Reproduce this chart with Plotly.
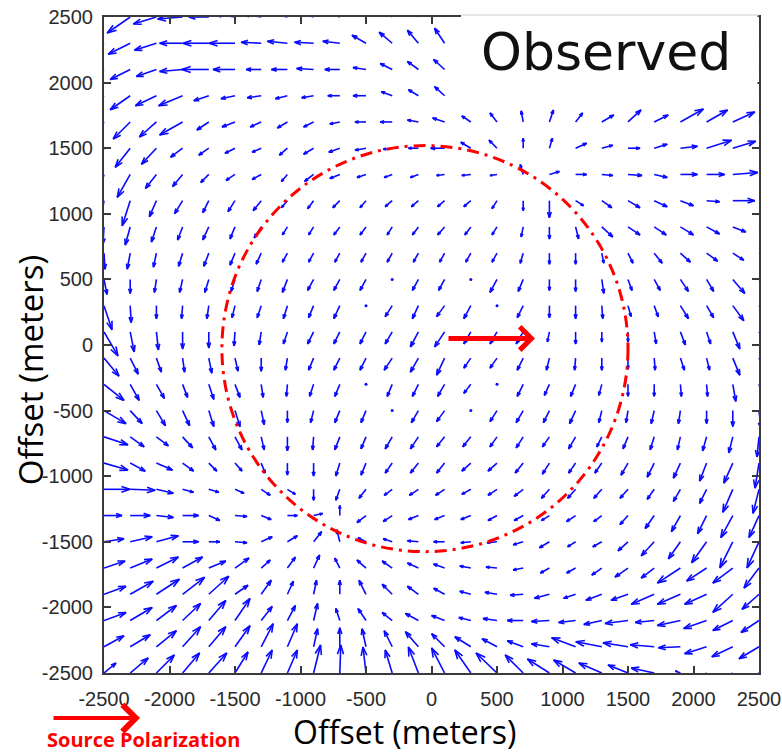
import plotly.graph_objects as go

# ---------------- data ----------------
X_GRID = [-2500, -2300, -2100, -1900, -1700, -1500, -1300, -1100, -900, -700, -500, -300, -100,
          100, 300, 500, 700, 900, 1100, 1300, 1500, 1700, 1900, 2100, 2300, 2500]
Y_GRID = [2500, 2300, 2100, 1900, 1700, 1500, 1300, 1100, 900, 700, 500, 300, 100,
          -100, -300, -500, -700, -900, -1100, -1300, -1500, -1700, -1900, -2100, -2300, -2500]

# observed field components (one list per row, top row first)
U_ROWS = [
    [-20, -23, -23, -25, -20, -20, -18, -17, -16, -15, -12, -10, -8, -6, -3, 0, 5, 8, 12, 15, 18, 20, 22, 22, 22, 20],
    [-20, -22, -22, -23, -26, -26, -20, -20, -19, -17, -14, -13, -11, -10, -6, -2, 3, 7, 11, 15, 18, 20, 22, 22, 22, 20],
    [-18, -20, -20, -23, -27, -22, -15, -16, -17, -15, -13, -12, -11, -11, -8, -4, 2, 6, 10, 14, 17, 19, 21, 21, 21, 20],
    [-15, -20, -21, -24, -15, -14, -14, -12, -12, -12, -13, -11, -10, -10, -8, -5, 0, 5, 8, 12, 14, 16, 22, 21, 22, 20],
    [-10, -17, -17, -23, -12, -13, -11, -10, -10, -10, -11, -12, -11, -12, -9, -7, -2, 4, 7, 12, 13, 14, 23, 21, 22, 20],
    [-8, -15, -15, -12, -10, -10, -9, -8, -10, -11, -11, -9, -10, -14, -10, -8, 0, 3, 11, 11, 12, 13, 17, 25, 23, 20],
    [-5, -13, -11, -10, -8, -9, -9, -6, -9, -10, -9, -8, -8, -8, -9, -7, -3, 10, 11, 11, 14, 13, 17, 18, 25, 20],
    [-3, -8, -7, -8, -6, -7, -8, -6, -6, -7, -6, -7, -7, -7, -7, -5, 0, 0, 8, 10, 12, 13, 13, 13, 22, 20],
    [-1, -5, -5, -5, -6, -5, -7, -5, -5, -6, -6, -5, -6, -7, -6, -5, -2, 0, 3, 11, 12, 12, 13, 13, 13, 15],
    [1, -3, -3, -4, -5, -5, -5, -5, -5, -5, -5, -5, -5, -5, -5, -5, -3, 0, 0, 2, 5, 8, 10, 11, 11, 12],
    [3, 0, -2, -3, -4, -4, -4, -5, -6, -6, -6, 0, -6, -6, 0, -7, -5, 0, 0, 2, 4, 6, 8, 7, 12, 12],
    [8, 1, 0, -1, -2, -3, -4, -4, -5, -6, 0, -7, -6, -8, -7, 0, -6, 0, 0, 1, 3, 4, 8, 7, 11, 10],
    [14, 4, 2, 0, 0, -1, -2, -4, -6, -6, -6, -7, -8, -10, -7, -7, -7, -2, 0, 0, 0, 2, 5, 4, 7, 8],
    [15, 8, 5, 2, 3, 3, 0, -2, -5, -6, -6, -8, -8, -8, -7, -7, -6, -3, -1, 0, 0, 1, 4, 3, 7, 8],
    [20, 9, 8, 5, 5, 5, 2, -1, -4, -5, 0, -5, -6, -7, -7, 0, -6, -5, -5, -3, 0, 0, 1, 1, 3, 5],
    [22, 12, 9, 7, 5, 5, 3, 0, -3, -5, -5, 0, -7, -8, 0, -7, -7, -6, -6, -3, -2, -3, -2, 0, 0, 2],
    [24, 14, 12, 10, 7, 7, 3, 0, -1, -5, -5, -7, -8, -8, -8, -7, -7, -7, -7, -5, -5, -4, -3, -4, -4, -2],
    [24, 15, 16, 11, 8, 7, 4, 0, 0, -4, -5, -7, -8, -8, -9, -9, -8, -7, -7, -7, -7, -7, -7, -7, -9, -4],
    [26, 25, 17, 11, 10, 9, 9, 8, 0, -4, -7, -8, -9, -9, -9, -9, -9, -8, -8, -8, -8, -7, -7, -7, -10, -6],
    [18, 20, 17, 16, 11, 12, 10, 10, 9, 0, -9, -9, -10, -10, -10, -9, -9, -8, -9, -8, -8, -9, -9, -9, -12, -10],
    [20, 22, 22, 16, 11, 12, 11, 10, 8, -3, -8, -9, -11, -11, -10, -10, -10, -10, -8, -9, -10, -13, -12, -15, -13, -12],
    [21, 22, 22, 20, 17, 14, 9, 8, 6, -5, -9, -10, -11, -11, -11, -11, -10, -9, -9, -10, -13, -13, -23, -20, -20, -15],
    [22, 23, 23, 22, 20, 13, 10, 6, 3, 0, -7, -10, -11, -11, -11, -12, -13, -15, -12, -16, -17, -23, -23, -22, -20, -17],
    [22, 22, 20, 18, 17, 15, 11, 8, 4, -4, -8, -10, -13, -13, -12, -14, -16, -18, -17, -18, -23, -19, -23, -23, -20, -18],
    [20, 20, 20, 18, 17, 15, 12, 10, 4, 0, -4, -8, -13, -13, -16, -15, -16, -18, -24, -26, -25, -24, -22, -22, -21, -20],
    [12, 18, 18, 17, 18, 13, 11, 10, 7, 1, -3, -7, -10, -13, -16, -21, -18, -22, -22, -23, -20, -23, -5, -15, -15, -15],
]
V_ROWS = [
    [-8, -16, -7, -2, 0, 3, 3, 4, 5, 6, 9, 12, 14, 16, 16, 15, 14, 14, 12, 10, 8, 8, 8, 6, 5, 5],
    [-12, -11, -7, 0, 0, 0, 1, 2, 1, 2, 8, 11, 13, 15, 15, 15, 14, 13, 11, 9, 8, 8, 8, 7, 6, 5],
    [-12, -10, -7, -2, 0, 0, 0, 0, 1, 0, 2, 6, 8, 10, 12, 13, 12, 12, 10, 8, 7, 7, 7, 6, 6, 5],
    [-12, -14, -10, -10, -5, -3, -2, -3, -2, 0, 0, 4, 6, 9, 10, 11, 12, 12, 10, 8, 10, 7, 12, 11, 9, 6],
    [-15, -17, -15, -13, -8, -5, -5, -6, -5, -2, 0, 0, 2, 4, 6, 9, 11, 12, 9, 7, 12, 7, 13, 12, 10, 8],
    [-15, -19, -16, -9, -7, -5, -4, -7, -6, -4, -2, -1, 0, 0, 6, 8, 10, 10, 5, 3, 0, 4, 2, 8, 7, 6],
    [-18, -23, -14, -12, -8, -6, -5, -7, -7, -4, -3, -3, -3, -1, -1, -1, 10, 3, 0, -1, -1, -3, 0, 0, 2, 0],
    [-18, -25, -16, -13, -12, -11, -10, -7, -8, -7, -7, -6, -6, -6, -6, -8, -10, -17, -5, -7, -7, -6, -5, -1, 0, 0],
    [-17, -18, -15, -13, -13, -12, -11, -8, -8, -8, -8, -8, -8, -8, -8, -8, -10, -12, -12, -10, -8, -8, -8, -7, -5, -5],
    [-16, -16, -14, -13, -13, -12, -11, -9, -9, -9, -9, -9, -9, -9, -9, -9, -10, -11, -11, -10, -10, -10, -9, -8, -7, -8],
    [-15, -14, -13, -13, -13, -12, -12, -13, -11, -11, -11, 0, -11, -11, 0, -13, -12, -11, -12, -14, -11, -11, -12, -12, -14, -12],
    [-24, -17, -13, -13, -13, -12, -12, -13, -12, -13, 0, -11, -13, -11, -13, 0, -12, -12, -13, -13, -11, -11, -13, -12, -15, -14],
    [-24, -20, -18, -17, -16, -14, -13, -12, -12, -12, -12, -12, -15, -15, -12, -12, -12, -10, -12, -10, -10, -12, -13, -12, -17, -15],
    [-18, -16, -14, -14, -15, -13, -13, -12, -12, -12, -12, -12, -14, -17, -10, -10, -12, -12, -12, -12, -11, -12, -12, -12, -17, -16],
    [-16, -16, -14, -13, -15, -13, -13, -12, -12, -12, 0, -12, -12, -12, -9, 0, -12, -11, -12, -11, -12, -12, -12, -12, -17, -17],
    [-13, -13, -15, -15, -16, -16, -14, -12, -12, -12, -12, 0, -12, -11, 0, -11, -12, -12, -13, -12, -12, -13, -13, -13, -16, -18],
    [-8, -10, -9, -11, -13, -13, -13, -14, -13, -13, -12, -12, -12, -10, -10, -10, -11, -10, -12, -10, -12, -13, -13, -14, -16, -20],
    [-7, -8, -7, -8, -8, -8, -10, -12, -13, -13, -12, -10, -10, -10, -8, -8, -10, -11, -10, -10, -12, -14, -15, -18, -20, -25],
    [0, -1, -4, -3, -3, -4, -6, -5, -11, -11, -9, -6, -6, -6, -5, -6, -7, -9, -9, -9, -9, -10, -12, -14, -23, -24],
    [0, 0, -2, 0, -5, -1, -4, 0, 2, 10, -7, -6, -4, -4, -4, -5, -5, -5, -6, -6, -9, -13, -16, -18, -22, -22],
    [3, 5, 6, 0, 0, -1, 5, 6, 10, 12, 4, 3, 1, 0, -1, -1, -3, -6, -5, -5, -9, -14, -17, -21, -26, -26],
    [7, 9, 11, 11, 7, 10, 8, 11, 13, 10, 8, 7, 5, 4, 2, 1, -2, -5, -5, -7, -9, -10, -15, -13, -15, -20],
    [8, 13, 15, 17, 18, 9, 14, 13, 14, 14, 14, 10, 8, 6, 3, 2, -1, -4, -4, -6, -6, -10, -10, -10, -18, -15],
    [8, 13, 15, 17, 20, 22, 14, 15, 17, 12, 12, 8, 7, 5, 3, 2, 0, -1, -2, -4, -3, -2, -5, -8, -10, -12],
    [11, 12, 16, 20, 20, 21, 23, 23, 18, 19, 18, 16, 15, 13, 10, 8, 6, 3, 9, 5, 4, 2, -1, -7, -10, -12],
    [10, 15, 18, 20, 20, 21, 23, 23, 28, 28, 26, 23, 26, 25, 23, 20, 18, 14, 13, 10, 8, 5, 2, -10, -10, -10],
]

TICK_VALS = [-2500, -2000, -1500, -1000, -500, 0, 500, 1000, 1500, 2000, 2500]
TICK_TEXT = ["-2500", "-2000", "-1500", "-1000", "-500", "0", "500", "1000", "1500", "2000", "2500"]

CIRCLE_X = [-1600, 1500]
CIRCLE_Y = [-1575, 1520]
SOURCE_ARROW_X = [118, 790]
SOURCE_ARROW_Y = [50, 50]

# ---------------- drawing ----------------
SCALE = 7.63          # metres per reading unit (quiver scale)
ALPHA, BETA = 0.33, 0.33

qx, qy = [], []
zx, zy = [], []
for j, y in enumerate(Y_GRID):
    for i, x in enumerate(X_GRID):
        u = U_ROWS[j][i] * SCALE
        v = V_ROWS[j][i] * SCALE
        if u == 0 and v == 0:
            zx.append(x)
            zy.append(y)
            continue
        qx += [x, x + u, None,
               x + u - ALPHA * (u + BETA * v), x + u, x + u - ALPHA * (u - BETA * v), None]
        qy += [y, y + v, None,
               y + v - ALPHA * (v - BETA * u), y + v, y + v - ALPHA * (v + BETA * u), None]

fig = go.Figure()
fig.add_trace(go.Scatter(x=qx, y=qy, mode="lines",
                         line=dict(color="#0a0aff", width=1.6),
                         hoverinfo="skip", showlegend=False))
fig.add_trace(go.Scatter(x=zx, y=zy, mode="markers",
                         marker=dict(color="#0a0aff", size=3),
                         hoverinfo="skip", showlegend=False, cliponaxis=True))

axis_common = dict(
    range=[-2500, 2500], tickmode="array", tickvals=TICK_VALS, ticktext=TICK_TEXT,
    showgrid=False, zeroline=False, showline=True, mirror="ticks",
    linecolor="#3a3a3a", linewidth=2, ticks="inside", ticklen=7, tickwidth=1.5,
    tickcolor="#3a3a3a", automargin=False, ticklabeloverflow="allow",
    tickfont=dict(family="Liberation Sans, Arial, sans-serif", size=20, color="#2b2b2b"),
)
fig.update_xaxes(**axis_common, ticklabelstandoff=7)
fig.update_yaxes(**axis_common, ticklabelstandoff=5)

shapes = [
    dict(type="circle", xref="x", yref="y",
         x0=CIRCLE_X[0], x1=CIRCLE_X[1], y0=CIRCLE_Y[0], y1=CIRCLE_Y[1],
         line=dict(color="#ff0000", width=3, dash="12px,6px,3px,6px"), layer="above"),
    dict(type="rect", xref="paper", yref="paper", x0=0.545, x1=0.9977, y0=0.873, y1=1.0046,
         fillcolor="white", line=dict(width=0), layer="above"),
    dict(type="line", xref="paper", yref="paper", x0=0.545, x1=1.0, y0=1.003, y1=1.003,
         line=dict(color="#cfcfcf", width=1), layer="above"),
]

annotations = [
    dict(text="Observed", xref="paper", yref="paper", x=0.766, y=0.947,
         xanchor="center", yanchor="middle", showarrow=False,
         font=dict(family="DejaVu Sans", size=52, color="#111111")),
    dict(text="Offset (meters)", xref="paper", yref="paper", x=-0.113, y=0.463,
         xanchor="center", yanchor="middle", showarrow=False, textangle=-90,
         font=dict(family="Open Sans", size=33, color="#000000")),
    dict(text="Offset (meters)", xref="paper", yref="paper", x=0.4595, y=-0.089,
         xanchor="center", yanchor="middle", showarrow=False,
         font=dict(family="Open Sans", size=32, color="#000000")),
    dict(text="<b>Source Polarization</b>", xref="paper", yref="paper", x=0.061, y=-0.102,
         xanchor="center", yanchor="middle", showarrow=False,
         font=dict(family="Open Sans", size=20, color="#ff0000")),
    dict(text="", xref="paper", yref="paper", x=0.055, y=-0.0687, ax=-88, ay=0,
         showarrow=True, arrowhead=4, arrowsize=1.3, arrowwidth=4, arrowcolor="#ff0000",
         standoff=0),
    dict(text="", xref="x", yref="y", axref="x", ayref="y",
         x=SOURCE_ARROW_X[1], y=SOURCE_ARROW_Y[1], ax=SOURCE_ARROW_X[0], ay=SOURCE_ARROW_Y[0],
         showarrow=True, arrowhead=4, arrowsize=0.9, arrowwidth=5, arrowcolor="#ff0000",
         standoff=0),
]

fig.update_layout(
    width=782, height=753,
    margin=dict(l=104, r=23, t=17, b=80, autoexpand=False),
    paper_bgcolor="white", plot_bgcolor="white",
    shapes=shapes, annotations=annotations, showlegend=False,
)

fig.write_html("out.html")
